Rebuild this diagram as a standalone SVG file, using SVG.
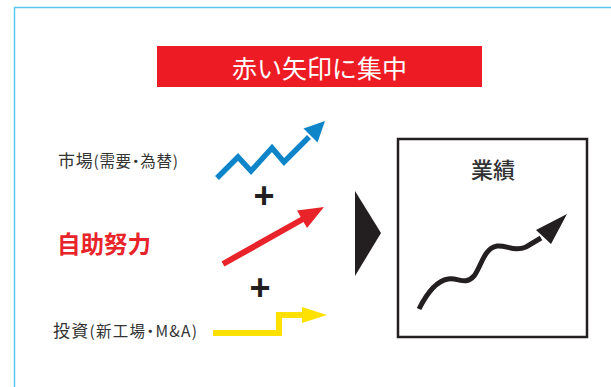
<svg xmlns="http://www.w3.org/2000/svg" width="611" height="387" viewBox="0 0 611 387">
<style>
.jp{font-family:"Noto Sans CJK JP","Noto Sans",sans-serif}
.lbl{font-size:17px;fill:#333;font-feature-settings:"palt"}
.sm{font-size:15.5px}
.plus{font-family:"Liberation Sans",Arial,sans-serif;font-weight:bold;font-size:36px;fill:#231f20;text-anchor:middle}
</style>
<rect width="611" height="387" fill="#fff"/>
<path d="M14.5,387 V7.5 H611" fill="none" stroke="#5bc8f0" stroke-width="1.5"/>
<g id="banner">
<rect x="157" y="46" width="325" height="41" fill="#ed1c24"/>
<text class="jp" x="319.5" y="78" font-size="25" fill="#fff" text-anchor="middle">赤い矢印に集中</text>
</g>
<g id="market">
<text class="jp lbl" x="58" y="167" textLength="120" lengthAdjust="spacing">市場<tspan class="sm">(需要・為替)</tspan></text>
</g>
<g id="selfhelp">
<text class="jp" x="57" y="253" font-size="23.5" font-weight="bold" fill="#e8242a">自助努力</text>
</g>
<g id="invest">
<text class="jp lbl" x="53" y="337" textLength="144" lengthAdjust="spacing">投資<tspan class="sm">(新工場・M&amp;A)</tspan></text>
</g>
<g id="plus1"><text class="plus" x="264" y="208">+</text></g>
<g id="plus2"><text class="plus" x="260" y="300">+</text></g>
<g id="result">
<rect x="398" y="139" width="189" height="198" fill="none" stroke="#231f20" stroke-width="2.5"/>
<text class="jp" x="493" y="178" font-size="22" font-weight="500" fill="#333" text-anchor="middle">業績</text>
</g>
<g id="connectors">
<polyline points="217,178 238,157 251,171 272,148 284,162 309,137" fill="none" stroke="#0e85c9" stroke-width="5.5" stroke-linejoin="miter"/>
<polygon points="325,121 303.5,128.5 317.5,142.5" fill="#0e85c9"/>
<line x1="223" y1="264" x2="303" y2="219" stroke="#e8242a" stroke-width="6"/>
<polygon points="324,207 297,210.5 307,228" fill="#e8242a"/>
<polyline points="213,333 279,333 279,315 303,315" fill="none" stroke="#ffe100" stroke-width="6"/>
<polygon points="327,315 302,307 302,323" fill="#ffe100"/>
<polygon points="355,191 381,233 355,276" fill="#231f20"/>
<path d="M419,309 C427,293 436,281 448,279 C458,277 465,286 474,276 C481,267 484,248 497,246 C507,245 514,252 526,247 L541,238" fill="none" stroke="#231f20" stroke-width="5"/>
<polygon points="567,214 536,230 551,244" fill="#231f20"/>
</g>
</svg>
